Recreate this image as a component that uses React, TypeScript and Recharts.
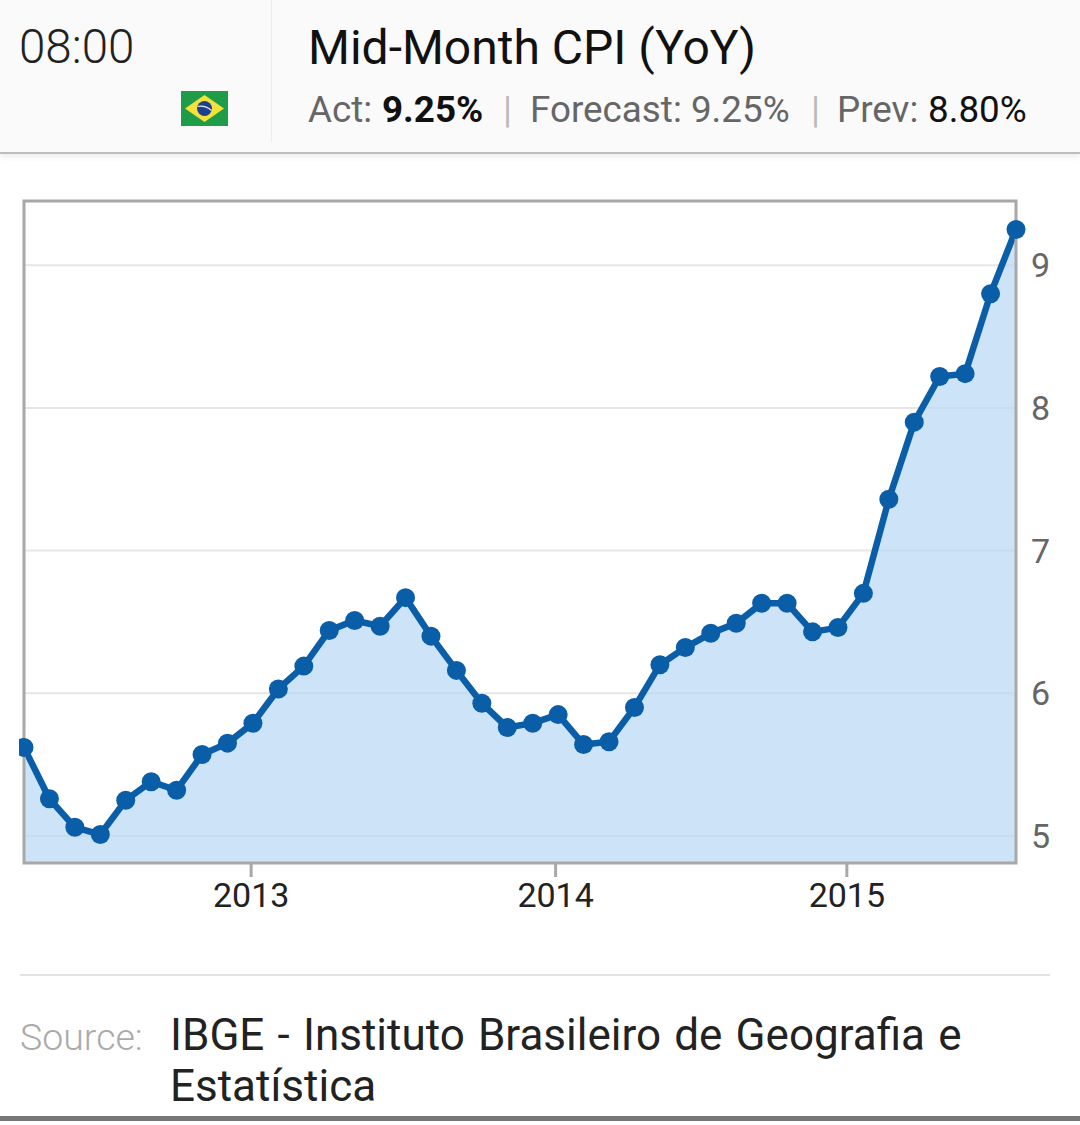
import React from "react";
import { AreaChart, Area, XAxis, YAxis, CartesianGrid, ReferenceArea } from "recharts";

const months = [
  "2012-04","2012-05","2012-06","2012-07","2012-08","2012-09","2012-10","2012-11","2012-12",
  "2013-01","2013-02","2013-03","2013-04","2013-05","2013-06","2013-07","2013-08","2013-09","2013-10","2013-11","2013-12",
  "2014-01","2014-02","2014-03","2014-04","2014-05","2014-06","2014-07","2014-08","2014-09","2014-10","2014-11","2014-12",
  "2015-01","2015-02","2015-03","2015-04","2015-05","2015-06","2015-07",
];
const cpi = [
  5.62,5.26,5.06,5.01,5.25,5.38,5.32,5.57,5.65,
  5.79,6.03,6.19,6.44,6.51,6.47,6.67,6.40,6.16,5.93,5.76,5.79,
  5.85,5.64,5.66,5.90,6.20,6.32,6.42,6.49,6.63,6.63,6.43,6.46,
  6.70,7.36,7.90,8.22,8.24,8.80,9.25,
];
const yTicks = [5, 6, 7, 8, 9];
const xTickPositions = [8.93, 20.9, 32.35];
const xTickLabels = ["2013", "2014", "2015"];
const yDomain = [4.81, 9.45];

const timeText = "08:00";
const titleText = "Mid-Month CPI (YoY)";
const sourceLabel = "Source:";
const sourceLines = ["IBGE - Instituto Brasileiro de Geografia e", "Estatística"];

const data = months.map((m, i) => ({ i, month: m, value: cpi[i] }));
const font = "Roboto, sans-serif";

const T = ({ x, y, size, color, weight, children, wordSpacing }: any) => (
  <span style={{ position: "absolute", left: x, top: y, fontSize: size, lineHeight: `${size}px`, color, fontWeight: weight ?? 400, fontFamily: font, whiteSpace: "nowrap", wordSpacing: wordSpacing ?? 0 }}>
    {children}
  </span>
);

const Flag = () => (
  <svg style={{ position: "absolute", left: 181, top: 91 }} width={47} height={35} viewBox="0 0 47 35">
    <rect width={47} height={35} fill="#1f9c48" />
    <polygon points="23.5,4 43,17.5 23.5,31 4,17.5" fill="#f4e23a" />
    <circle cx={23.5} cy={17.5} r={7.5} fill="#1c3f8f" />
    <path d="M16.5 15.5 Q24 14 30.5 19.5" stroke="#e8eef5" strokeWidth={1.2} fill="none" />
  </svg>
);

export default function App() {
  return (
    <div style={{ position: "absolute", left: 0, top: 0, width: 1080, height: 1125, background: "#fff", overflow: "hidden" }}>
      <div style={{ position: "absolute", left: 0, top: 0, width: 1080, height: 152, background: "#fafafa", borderBottom: "2px solid #bdbdbd", boxShadow: "0 3px 6px rgba(0,0,0,0.08)" }} />
      <div style={{ position: "absolute", left: 271, top: 0, width: 1, height: 142, background: "#ececec" }} />
      <T x={19} y={24} size={47.5} color="#222" weight={300}>{timeText}</T>
      <Flag />
      <T x={308} y={24} size={48} color="#111">{titleText}</T>
      <T x={308} y={92} size={36.8} color="#666">Act: </T>
      <T x={382} y={92} size={36.8} color="#111" weight={700}>9.25%</T>
      <T x={503} y={92} size={36.8} color="#bbb">|</T>
      <T x={530} y={92} size={36.8} color="#666">Forecast: 9.25%</T>
      <T x={811} y={92} size={36.8} color="#bbb">|</T>
      <T x={837} y={92} size={36.8} color="#666">Prev: </T>
      <T x={928} y={92} size={36.8} color="#111">8.80%</T>

      <div style={{ position: "absolute", left: 19, top: 0 }}>
        <AreaChart width={1061} height={1000} data={data} margin={{ top: 201, left: 5, right: 0, bottom: 77 }}>
          <CartesianGrid horizontal vertical={false} stroke="#e6e6e6" strokeWidth={2} />
          <XAxis
            dataKey="i"
            type="number"
            domain={[0, 39]}
            ticks={xTickPositions}
            tickFormatter={(v: number) => xTickLabels[xTickPositions.indexOf(v)]}
            interval={0}
            axisLine={false}
            tickLine={{ stroke: "#a8a8a8", strokeWidth: 3 }}
            tickSize={14}
            tick={{ fill: "#222", fontSize: 34, fontFamily: font }}
            tickMargin={6}
            height={60}
          />
          <YAxis
            orientation="right"
            type="number"
            domain={yDomain}
            ticks={yTicks}
            allowDataOverflow
            axisLine={false}
            tickLine={false}
            tick={{ fill: "#666", fontSize: 34, fontFamily: font }}
            tickMargin={9}
            width={64}
          />
          <Area
            dataKey="value"
            type="linear"
            stroke="#0a5ea8"
            strokeWidth={6.5}
            fill="#b6d7f5"
            fillOpacity={0.7}
            baseValue={yDomain[0]}
            dot={{ r: 9.5, fill: "#0a5ea8", stroke: "#0a5ea8", strokeWidth: 0, fillOpacity: 1 }}
            isAnimationActive={false}
          />
          <ReferenceArea x1={0} x2={39} y1={yDomain[0]} y2={yDomain[1]} fill="none" stroke="#a8a8a8" strokeWidth={3} />
        </AreaChart>
      </div>

      <div style={{ position: "absolute", left: 20, top: 974, width: 1030, height: 2, background: "#e2e2e2" }} />
      <T x={20} y={1019} size={37.5} color="#aaa" weight={300}>{sourceLabel}</T>
      <T x={170} y={1013} size={44} color="#222" wordSpacing={2.3}>{sourceLines[0]}</T>
      <T x={170} y={1064} size={44} color="#222">{sourceLines[1]}</T>
      <div style={{ position: "absolute", left: 0, top: 1116, width: 1080, height: 5, background: "#777" }} />
    </div>
  );
}
